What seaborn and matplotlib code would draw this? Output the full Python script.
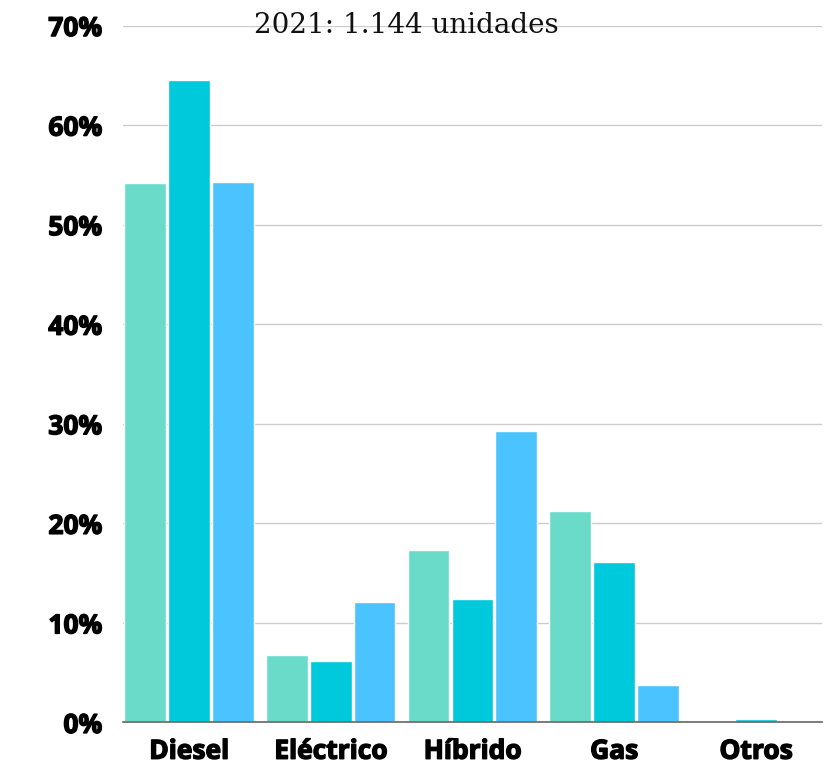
import matplotlib.pyplot as plt
import matplotlib.patheffects as pe
import seaborn as sns
import pandas as pd

categorias = ["Diesel", "Eléctrico", "Híbrido", "Gas", "Otros"]
series = ["2019", "2020", "2021"]
valores_2019 = [54.2, 6.8, 17.3, 21.2, 0.0]
valores_2020 = [64.5, 6.2, 12.4, 16.1, 0.3]
valores_2021 = [54.3, 12.1, 29.3, 3.8, 0.0]
colores = ["#69DBC8", "#00C9DB", "#4AC3FF"]
yticks = [0, 10, 20, 30, 40, 50, 60, 70]

df = pd.DataFrame({
    "categoria": categorias * 3,
    "serie": [s for s in series for _ in categorias],
    "valor": valores_2019 + valores_2020 + valores_2021,
})

sns.set_theme(style="white")

fig = plt.figure(figsize=(8.31, 7.65), dpi=100)
ax = fig.add_axes([0.148, 0.0556, 0.841, 0.911])

sns.barplot(
    data=df, x="categoria", y="valor", hue="serie",
    order=categorias, hue_order=series, palette=colores,
    width=0.93, gap=0.05, saturation=1, legend=False, ax=ax,
)

ax.set_xlim(-0.465, 4.465)
ax.set_ylim(0, 70)
ax.set_yticks(yticks)
ax.set_yticklabels([f"{t}%" for t in yticks])
ax.yaxis.grid(True, color="#CCCCCC", linewidth=1)
ax.set_axisbelow(True)
for s in ["left", "right", "top"]:
    ax.spines[s].set_visible(False)
ax.spines["bottom"].set_color("#666666")
ax.spines["bottom"].set_linewidth(1.2)
ax.set_xlabel("")
ax.set_ylabel("")
ax.tick_params(axis="both", length=0)
ax.tick_params(axis="y", pad=15)
ax.tick_params(axis="x", pad=11)
# Open Sans Bold + тонке обведення, щоб вийшло схоже на ExtraBold
for lab in ax.get_yticklabels() + ax.get_xticklabels():
    lab.set_fontfamily("Open Sans")
    lab.set_fontweight("bold")
    lab.set_fontsize(19)
    lab.set_color("black")
    lab.set_path_effects([pe.withStroke(linewidth=1.0, foreground="black")])

fig.text(0.489, 0.967, "2021: 1.144 unidades", ha="center", va="center",
         fontsize=20, family="DejaVu Serif", color="#111111")

fig.savefig("out.png", dpi=100)
